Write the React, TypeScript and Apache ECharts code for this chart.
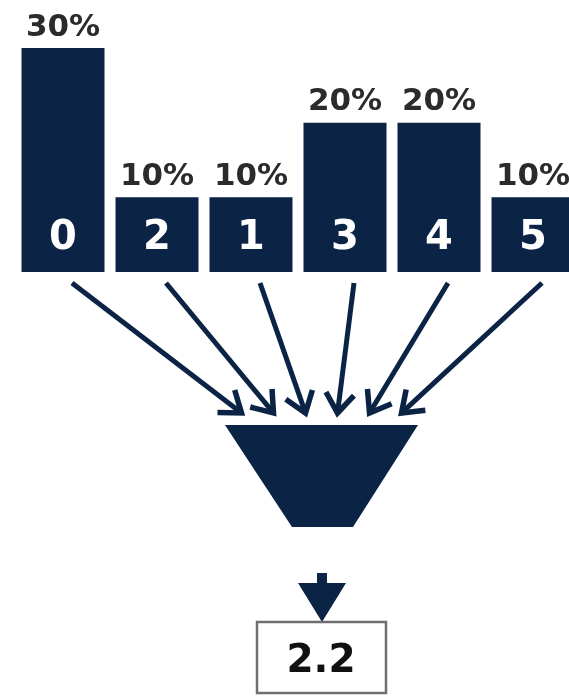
import React, { useEffect, useRef } from 'react';
import * as echarts from 'echarts';

const categories = ['0', '2', '1', '3', '4', '5'];
const shares = [30, 10, 10, 20, 20, 10];
const resultLabel = '2.2';

const NAVY = '#0b2345';

export default function App() {
  const ref = useRef<HTMLDivElement>(null);
  useEffect(() => {
    const chart = echarts.init(ref.current!, null, { renderer: 'svg' });
    chart.setOption({
      animation: false,
      grid: { left: 16, width: 564, top: 48, height: 224, containLabel: false, outerBoundsMode: 'none' },
      xAxis: {
        type: 'category',
        data: categories,
        axisLine: { show: false },
        axisTick: { show: false },
        z: 10,
        axisLabel: {
          inside: true,
          margin: 17,
          color: '#ffffff',
          fontSize: 40,
          fontWeight: 'bold',
          fontFamily: 'DejaVu Sans',
        },
      },
      yAxis: { type: 'value', min: 0, max: 30, show: false },
      series: [
        {
          type: 'bar',
          data: shares,
          barWidth: 83,
          itemStyle: { color: NAVY },
          label: {
            show: true,
            position: 'top',
            distance: 8,
            formatter: '{c}%',
            color: '#2b2b2b',
            fontSize: 31,
            fontWeight: 'bold',
            fontFamily: 'DejaVu Sans',
          },
        },
      ],
    });

    const centers = categories.map((_, i) => chart.convertToPixel({ xAxisIndex: 0 }, i) as number);
    const funnelCx = 321.5;
    const tipY = 413;
    const startY = 283;
    const elements: any[] = [];
    const armLen = 24;
    const ang = (36 * Math.PI) / 180;
    centers.forEach((cx, i) => {
      const sx = cx + 9;
      const tx = funnelCx + (i - 2.5) * 32;
      const dx = tx - sx;
      const dy = tipY - startY;
      const len = Math.hypot(dx, dy);
      const ux = dx / len;
      const uy = dy / len;
      const rot = (a: number) => [ux * Math.cos(a) - uy * Math.sin(a), ux * Math.sin(a) + uy * Math.cos(a)];
      const r1 = rot(ang);
      const r2 = rot(-ang);
      elements.push({
        type: 'line',
        shape: { x1: sx, y1: startY, x2: tx - ux * 2, y2: tipY - uy * 2 },
        style: { stroke: NAVY, lineWidth: 5 },
      });
      elements.push({
        type: 'polyline',
        shape: {
          points: [
            [tx - r1[0] * armLen, tipY - r1[1] * armLen],
            [tx, tipY],
            [tx - r2[0] * armLen, tipY - r2[1] * armLen],
          ],
        },
        style: { stroke: NAVY, lineWidth: 5.5, fill: null, lineJoin: 'miter' },
      });
    });
    // funnel
    elements.push({
      type: 'polygon',
      shape: { points: [[225, 425], [418, 425], [353, 527], [292, 527]] },
      style: { fill: NAVY },
    });
    // output arrow
    elements.push({
      type: 'rect',
      shape: { x: 317, y: 573, width: 10, height: 12 },
      style: { fill: NAVY },
    });
    elements.push({
      type: 'polygon',
      shape: { points: [[298, 583], [346, 583], [322, 622]] },
      style: { fill: NAVY },
    });
    // result box
    elements.push({
      type: 'rect',
      shape: { x: 257, y: 622, width: 129, height: 71 },
      style: { fill: '#ffffff', stroke: '#6f6f6f', lineWidth: 2.5 },
    });
    elements.push({
      type: 'text',
      style: {
        text: resultLabel,
        x: 321,
        y: 658,
        align: 'center',
        verticalAlign: 'middle',
        fontSize: 39,
        fontWeight: 'bold',
        fontFamily: 'DejaVu Sans',
        fill: '#111111',
      },
    });
    chart.setOption({ graphic: elements });
    return () => chart.dispose();
  }, []);
  return <div ref={ref} style={{ position: 'fixed', left: 0, top: 0, width: 569, height: 696 }} />;
}
